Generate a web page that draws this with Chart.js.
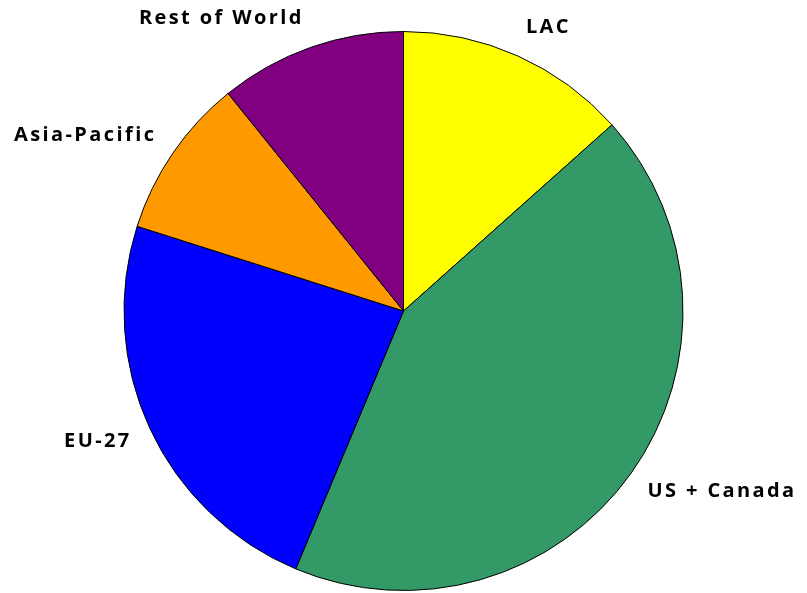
<!DOCTYPE html>
<html>
<head>
<meta charset="utf-8">
<script src="https://cdn.jsdelivr.net/npm/chart.js@4.4.0/dist/chart.umd.min.js"></script>
<style>
html,body{margin:0;padding:0;background:#fff;}
#wrap{width:807px;height:593px;}
</style>
</head>
<body>
<div id="wrap"><canvas id="c" width="807" height="593"></canvas></div>
<script>
const categories = ["LAC", "US + Canada", "EU-27", "Asia-Pacific", "Rest of World"];
const values = [13.4, 42.9, 23.6, 9.3, 10.8];
const colors = ["#FFFF00", "#339966", "#0000FF", "#FF9900", "#800080"];

const outsideLabels = {
  id: 'outsideLabels',
  afterDatasetsDraw(chart) {
    const ctx = chart.ctx;
    const meta = chart.getDatasetMeta(0);
    ctx.save();
    ctx.font = 'bold 20px "Open Sans", Lato, sans-serif';
    ctx.letterSpacing = '2.4px';
    ctx.fillStyle = '#000';
    ctx.textBaseline = 'middle';
    meta.data.forEach((arc, i) => {
      const p = arc.getProps(['x','y','startAngle','endAngle','outerRadius'], true);
      const mid = (p.startAngle + p.endAngle) / 2;
      const r = p.outerRadius + 20;
      const x = p.x + Math.cos(mid) * r;
      const y = p.y + Math.sin(mid) * (r + 11);
      ctx.textAlign = Math.cos(mid) >= 0 ? 'left' : 'right';
      ctx.fillText(chart.data.labels[i], x, y);
    });
    ctx.restore();
  }
};

new Chart(document.getElementById('c'), {
  type: 'pie',
  data: {
    labels: categories,
    datasets: [{
      data: values,
      backgroundColor: colors,
      borderColor: '#000',
      borderWidth: 1
    }]
  },
  options: {
    responsive: false,
    animation: false,
    layout: { padding: { top: 31, bottom: 2, left: 0, right: 0 } },
    plugins: { legend: { display: false }, tooltip: { enabled: false } }
  },
  plugins: [outsideLabels]
});
</script>
</body>
</html>
